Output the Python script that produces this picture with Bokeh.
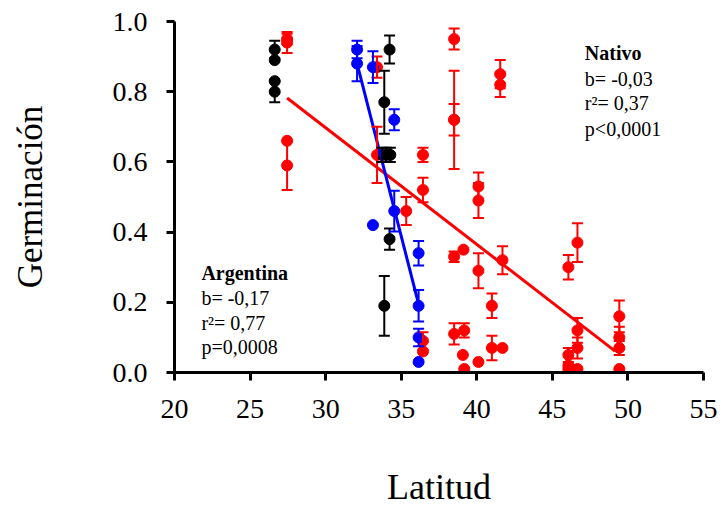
from bokeh.plotting import figure
from bokeh.models import (ColumnDataSource, Range1d, FixedTicker, NumeralTickFormatter,
                          Whisker, TeeHead, Label)
from bokeh.embed import file_html
from bokeh.resources import INLINE

# ---------------- data ----------------
red_x = [27.45, 27.45, 27.45, 27.45, 33.4, 33.4, 35.33, 36.44, 36.44, 36.44, 36.44,
         38.5, 38.5, 38.5, 38.5, 38.5, 39.12, 39.17, 39.08, 39.17,
         40.11, 40.11, 40.11, 40.11, 41.0, 41.0, 41.55, 41.55, 41.7, 41.7,
         46.06, 46.06, 46.06, 46.06, 46.66, 46.66, 46.66, 46.66,
         49.43, 49.43, 49.43, 49.43]
red_y = [0.95, 0.94, 0.66, 0.59, 0.87, 0.62, 0.46, 0.62, 0.52, 0.09, 0.06,
         0.95, 0.72, 0.72, 0.33, 0.11, 0.35, 0.12, 0.05, 0.01,
         0.53, 0.49, 0.29, 0.03, 0.19, 0.07, 0.85, 0.82, 0.32, 0.07,
         0.30, 0.05, 0.02, 0.01, 0.37, 0.12, 0.07, 0.01,
         0.16, 0.10, 0.07, 0.01]
red_err = [0.015, 0.03, 0.0, 0.07, 0.03, 0.08, 0.04, 0.02, 0.035, 0.025, 0.0,
           0.03, 0.14, 0.045, 0.015, 0.03, 0.0, 0.02, 0.0, 0.0,
           0.04, 0.05, 0.05, 0.0, 0.035, 0.035, 0.04, 0.035, 0.04, 0.0,
           0.035, 0.02, 0.0, 0.0, 0.055, 0.035, 0.03, 0.0,
           0.045, 0.03, 0.02, 0.0]

black_x = [26.63, 26.63, 26.63, 26.63, 34.23, 33.88, 33.73, 34.01, 34.28, 34.23, 33.88]
black_y = [0.92, 0.89, 0.83, 0.80, 0.92, 0.77, 0.62, 0.62, 0.62, 0.38, 0.19]
black_err = [0.025, 0.0, 0.0, 0.03, 0.04, 0.09, 0.02, 0.02, 0.02, 0.03, 0.085]

blue_x = [32.08, 32.08, 33.13, 34.54, 34.54, 33.13, 36.15, 36.15, 36.15, 36.15]
blue_y = [0.92, 0.88, 0.87, 0.72, 0.46, 0.42, 0.34, 0.19, 0.10, 0.03]
blue_err = [0.025, 0.05, 0.045, 0.03, 0.058, 0.0, 0.035, 0.045, 0.025, 0.0]

# regression lines (end points)
red_fit_x = [27.45, 49.15]
red_fit_y = [0.782, 0.061]
blue_fit_x = [32.08, 36.15]
blue_fit_y = [0.88, 0.195]

x_ticks = [20, 25, 30, 35, 40, 45, 50, 55]
y_ticks = [0.0, 0.2, 0.4, 0.6, 0.8, 1.0]

FONT = "Liberation Serif"

p = figure(width=721, height=509, output_backend="svg", toolbar_location=None,
           x_range=Range1d(20, 55), y_range=Range1d(0, 1),
           min_border_left=174, min_border_right=18, min_border_top=21,
           min_border_bottom=134)
p.outline_line_color = None
p.grid.visible = False
p.background_fill_color = "white"
p.border_fill_color = "white"

for ax in (p.xaxis[0], p.yaxis[0]):
    ax.axis_line_width = 3
    ax.axis_line_color = "black"
    ax.major_tick_line_width = 3
    ax.major_tick_line_color = "black"
    ax.major_tick_out = 8
    ax.major_tick_in = 0
    ax.minor_tick_line_color = None
    ax.major_label_text_font = FONT
    ax.major_label_text_font_size = "28px"
    ax.major_label_text_color = "black"
    ax.axis_label_text_font = FONT
    ax.axis_label_text_font_style = "normal"
    ax.axis_label_text_color = "black"

p.xaxis.axis_label_text_font_size = "36px"
p.yaxis.axis_label_text_font_size = "35px"
p.xaxis.ticker = FixedTicker(ticks=x_ticks)
p.yaxis.ticker = FixedTicker(ticks=y_ticks)
p.yaxis.formatter = NumeralTickFormatter(format="0.0")
p.xaxis.axis_label = "Latitud"
p.yaxis.axis_label = "Germinación"
p.xaxis.major_label_standoff = 19
p.yaxis.major_label_standoff = 19
p.xaxis.axis_label_standoff = 46
p.yaxis.axis_label_standoff = 60


def add_group(xs, ys, errs, color, fit_x=None, fit_y=None):
    ex = [x for x, e in zip(xs, errs) if e > 0]
    ey = [y for y, e in zip(ys, errs) if e > 0]
    ee = [e for e in errs if e > 0]
    esrc = ColumnDataSource(dict(x=ex, lo=[y - e for y, e in zip(ey, ee)],
                                 hi=[y + e for y, e in zip(ey, ee)]))
    w = Whisker(source=esrc, base="x", lower="lo", upper="hi",
                line_color=color, line_width=2, level="glyph",
                upper_head=TeeHead(size=11, line_color=color, line_width=2),
                lower_head=TeeHead(size=11, line_color=color, line_width=2))
    p.add_layout(w)
    p.scatter(xs, ys, size=11, color=color, line_color=color)
    if fit_x is not None:
        p.line(fit_x, fit_y, line_color=color, line_width=3)


add_group(red_x, red_y, red_err, "#FF0000", red_fit_x, red_fit_y)
add_group(black_x, black_y, black_err, "black")
add_group(blue_x, blue_y, blue_err, "#0000FF", blue_fit_x, blue_fit_y)

# annotations
arg_lines = [("Argentina", "bold", 0.2825), ("b= -0,17", "normal", 0.212),
             ("r²= 0,77", "normal", 0.1412), ("p=0,0008", "normal", 0.0734)]
nat_lines = [("Nativo", "bold", 0.909), ("b= -0,03", "normal", 0.835),
             ("r²= 0,37", "normal", 0.7675), ("p<0,0001", "normal", 0.695)]
for txt, style, yy in arg_lines:
    p.add_layout(Label(x=21.78, y=yy, text=txt, text_font=FONT,
                       text_font_size="20px", text_font_style=style,
                       text_baseline="middle", text_align="left",
                       text_color="black"))
for txt, style, yy in nat_lines:
    p.add_layout(Label(x=47.15, y=yy, text=txt, text_font=FONT,
                       text_font_size="20px", text_font_style=style,
                       text_baseline="middle", text_align="left",
                       text_color="black"))

open("out.html", "w").write(file_html(p, INLINE))
